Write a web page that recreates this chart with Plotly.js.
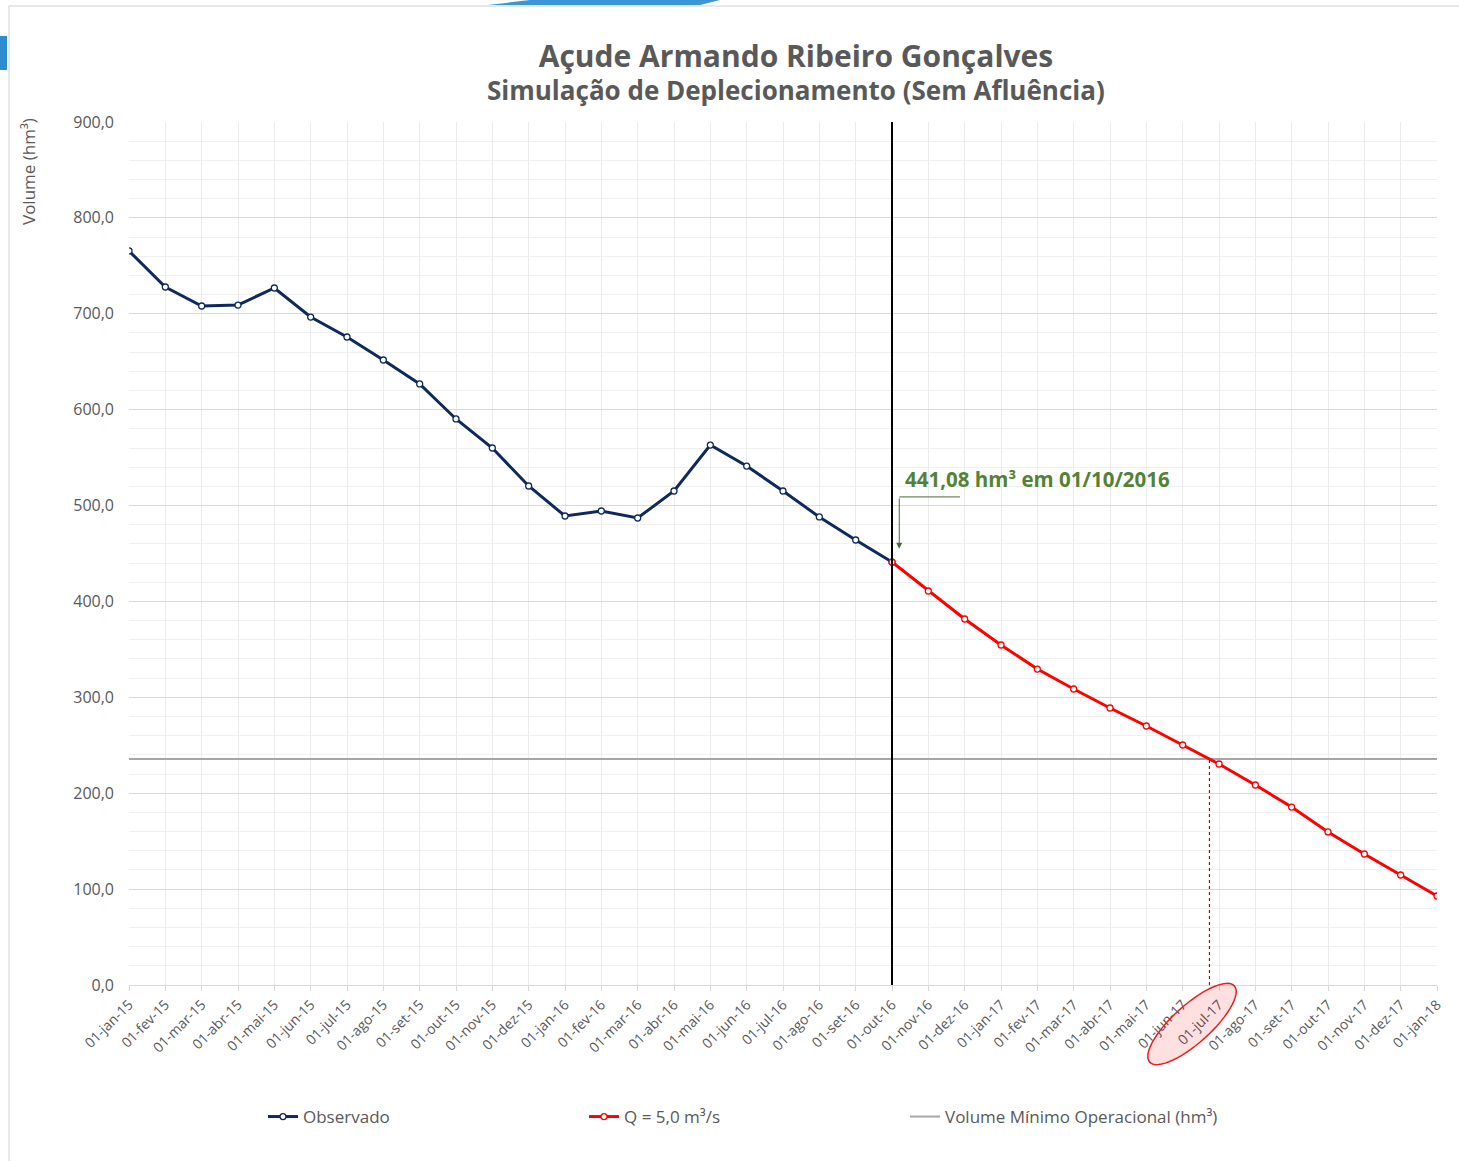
<!DOCTYPE html>
<html><head><meta charset="utf-8">
<script src="https://cdn.plot.ly/plotly-3.0.1.min.js"></script>
<style>html,body{margin:0;padding:0;background:#fff;}#chart{width:1459px;height:1161px;}</style>
</head><body><div id="chart"></div>
<script>
const categories = ["01-jan-15","01-fev-15","01-mar-15","01-abr-15","01-mai-15","01-jun-15","01-jul-15","01-ago-15","01-set-15","01-out-15","01-nov-15","01-dez-15",
"01-jan-16","01-fev-16","01-mar-16","01-abr-16","01-mai-16","01-jun-16","01-jul-16","01-ago-16","01-set-16","01-out-16","01-nov-16","01-dez-16",
"01-jan-17","01-fev-17","01-mar-17","01-abr-17","01-mai-17","01-jun-17","01-jul-17","01-ago-17","01-set-17","01-out-17","01-nov-17","01-dez-17","01-jan-18"];
const observado = [765.5,727.9,708.1,709.1,726.9,696.6,675.8,651.8,626.8,590.3,560.0,520.4,
489.1,494.3,487.0,515.2,563.1,541.2,515.2,488.1,464.1,441.08];
const simulacao = [441.08,410.9,381.7,354.6,329.5,308.7,288.9,270.1,250.3,230.5,208.6,185.6,159.6,136.6,114.7,92.8];
const volumeMinimo = 235.7;
const cutoffIndex = observado.length - 1;   // 01-out-16
const obsX = categories.slice(0, observado.length);
const simX = categories.slice(cutoffIndex, cutoffIndex + simulacao.length);

// crossing of simulation with min volume (interpolated position along category axis)
let crossX = null;
for (let i = 0; i < simulacao.length - 1; i++) {
  if (simulacao[i] >= volumeMinimo && simulacao[i+1] < volumeMinimo) {
    crossX = cutoffIndex + i + (simulacao[i] - volumeMinimo) / (simulacao[i] - simulacao[i+1]);
    break;
  }
}

const FONT = "Open Sans, Lato, sans-serif";
const GREY = "#595959";

const traces = [
  {x: obsX, y: observado, name: "Observado", type: "scatter", mode: "lines+markers",
   line: {color: "#0e2a5c", width: 3}, marker: {symbol: "circle", size: 6, color: "#ffffff", line: {color: "#0e2a5c", width: 1.3}}},
  {x: simX, y: simulacao, name: "Q = 5,0 m³/s", type: "scatter", mode: "lines+markers",
   line: {color: "#ff0000", width: 3}, marker: {symbol: "circle", size: 6, color: "#ffffff", line: {color: "#ff0000", width: 1.3}}},
  {x: categories, y: categories.map(() => volumeMinimo), name: "Volume Mínimo Operacional (hm³)", type: "scatter", mode: "lines",
   line: {color: "#a6a6a6", width: 2}}
];
traces[0].legendrank = 1; traces[1].legendrank = 2; traces[2].legendrank = 3;
const data = [traces[2], traces[0], traces[1]];

// ellipse around the 01-jul-17 label in paper coordinates
const L = 129, R = 1437, T = 122, B = 985;
const px = (v) => (v - L) / (R - L), py = (v) => (B - v) / (B - T);
function ellipsePath(cx, cy, a, b, angDeg) {
  const th = angDeg * Math.PI / 180; let p = "";
  for (let k = 0; k <= 60; k++) {
    const t = 2 * Math.PI * k / 60;
    const ex = a * Math.cos(t), ey = b * Math.sin(t);
    const X = cx + ex * Math.cos(th) - ey * Math.sin(th);
    const Y = cy + ex * Math.sin(th) + ey * Math.cos(th);
    p += (k === 0 ? "M" : "L") + px(X).toFixed(5) + "," + py(Y).toFixed(5);
  }
  return p + "Z";
}

const layout = {
  width: 1459, height: 1161,
  margin: {l: 129, r: 22, t: 122, b: 176},
  paper_bgcolor: "#ffffff", plot_bgcolor: "#ffffff",
  separators: ",.",
  font: {family: FONT, color: GREY},
  title: {text: "<b>Açude Armando Ribeiro Gonçalves</b>",
          x: 796 / 1459, xanchor: "center", y: 1 - 56 / 1161, yanchor: "middle", font: {family: FONT, size: 30, color: GREY}},
  showlegend: true,
  legend: {orientation: "h", xref: "container", yref: "container", x: 263 / 1459, xanchor: "left", y: 44 / 1161, yanchor: "middle",
           font: {family: FONT, size: 17, color: GREY}, entrywidth: 276, entrywidthmode: "pixels", itemwidth: 30, tracegroupgap: 0},
  xaxis: {type: "category", categoryorder: "array", categoryarray: categories, range: [0, categories.length - 1],
          tickangle: -45, tickfont: {family: FONT, size: 14, color: GREY},
          showgrid: true, gridcolor: "#ececec", gridwidth: 1,
          ticks: "outside", ticklen: 5, tickcolor: "#d9d9d9",
          showline: true, linecolor: "#d9d9d9", linewidth: 1, zeroline: false, fixedrange: true},
  yaxis: {range: [0, 900], dtick: 100, tickformat: ".1f", tickfont: {family: FONT, size: 16, color: GREY},
          showgrid: true, gridcolor: "#d9d9d9", gridwidth: 1,
          minor: {dtick: 20, showgrid: true, gridcolor: "#f0f0f0", gridwidth: 1},
          showline: false, zeroline: false, ticks: "", ticklabelstandoff: 14},
  shapes: [
    {type: "line", xref: "x", yref: "y", x0: categories[cutoffIndex], x1: categories[cutoffIndex], y0: 0, y1: 900,
     line: {color: "#000000", width: 2}, layer: "above"},
    {type: "line", xref: "x", yref: "y", x0: crossX, x1: crossX, y0: 0, y1: volumeMinimo,
     line: {color: "#c00000", width: 1.2, dash: "3px,3px"}},
    {type: "line", xref: "x", yref: "y", x0: cutoffIndex + 0.2, x1: cutoffIndex + 1.87, y0: 509, y1: 509,
     line: {color: "#4a6b2e", width: 1}},
    {type: "path", xref: "paper", yref: "paper", path: ellipsePath(1192, 1024, 57, 19, -42),
     fillcolor: "rgba(255,0,0,0.12)", line: {color: "#ee1c1c", width: 1.5}},
    {type: "line", xref: "paper", yref: "paper", x0: px(9), x1: px(9), y0: py(1161), y1: py(6), line: {color: "#d0d0d0", width: 1}},
    {type: "line", xref: "paper", yref: "paper", x0: px(9), x1: px(1459), y0: py(6), y1: py(6), line: {color: "#d0d0d0", width: 1}},
    {type: "rect", xref: "paper", yref: "paper", x0: px(0), x1: px(7), y0: py(70), y1: py(36), fillcolor: "#2e8bd0", line: {width: 0}},
    {type: "path", xref: "paper", yref: "paper",
     path: "M" + px(488) + "," + py(5) + "L" + px(530) + "," + py(0) + "L" + px(720) + "," + py(0) + "L" + px(700) + "," + py(5) + "Z",
     fillcolor: "#3b95d6", line: {width: 0}}
  ],
  annotations: [
    {xref: "paper", yref: "paper", x: px(796), y: py(90), text: "<b>Simulação de Deplecionamento (Sem Afluência)</b>", showarrow: false,
     xanchor: "center", yanchor: "middle", font: {family: FONT, size: 26, color: GREY}},
    {xref: "paper", yref: "paper", x: px(28), y: py(172), text: "Volume (hm³)", textangle: -90, showarrow: false,
     font: {family: FONT, size: 17, color: GREY}, xanchor: "center", yanchor: "middle"},
    {xref: "x", yref: "y", x: cutoffIndex + 0.3, y: 511, text: "<b>441,08 hm³ em 01/10/2016</b>", showarrow: false,
     xanchor: "left", yanchor: "bottom", font: {family: FONT, size: 20.5, color: "#548235"}},
    {xref: "x", yref: "y", axref: "x", ayref: "y", x: cutoffIndex + 0.2, y: 455, ax: cutoffIndex + 0.2, ay: 509,
     text: "", showarrow: true, arrowhead: 2, arrowsize: 1.2, arrowwidth: 1, arrowcolor: "#4a6b2e"}
  ]
};

Plotly.newPlot("chart", data, layout, {displayModeBar: false, staticPlot: true});
</script></body></html>
